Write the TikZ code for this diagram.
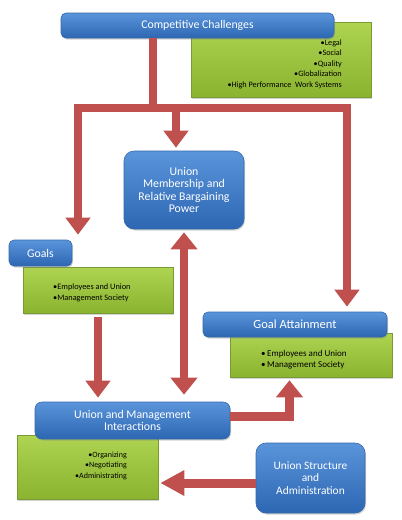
\documentclass[tikz,border=0pt]{standalone}
\usepackage{fontspec}
\setmainfont{Carlito}
\usetikzlibrary{arrows.meta,shadows}
\definecolor{bluetop}{HTML}{5A95DB}
\definecolor{bluebot}{HTML}{2D66B2}
\definecolor{blueedge}{HTML}{3568AA}
\definecolor{greentop}{HTML}{AED452}
\definecolor{greenbot}{HTML}{8AB32F}
\definecolor{greenedge}{HTML}{7A9A38}
\definecolor{redarr}{HTML}{C0504D}
\tikzset{
  bluebox/.style={draw=blueedge, line width=0.6pt, top color=bluetop, bottom color=bluebot,
    rounded corners=5pt, text=white, align=center, font=\fontsize{11.8}{12.5}\selectfont,
    inner sep=0pt, drop shadow={opacity=0.35, shadow xshift=1pt, shadow yshift=-1.5pt}},
  greenbox/.style={draw=greenedge, line width=0.5pt, top color=greentop, bottom color=greenbot,
    inner sep=0pt, drop shadow={opacity=0.35, shadow xshift=1pt, shadow yshift=-1.5pt}},
  gtext/.style={inner sep=0pt, text=black},
  redline/.style={draw=redarr, line width=7.5pt, line join=miter},
  tip/.style={-{Triangle[width=24pt,length=17pt]}},
}
\begin{document}
\begin{tikzpicture}[x=1pt,y=-1pt]
\useasboundingbox (0,0) rectangle (402,520);
% green boxes (behind)
\node[greenbox, minimum width=180pt, minimum height=75pt] (ccg) at (281,59.5) {};
\node[greenbox, minimum width=150pt, minimum height=46pt] (goalsg) at (98,290) {};
\node[greenbox, minimum width=162pt, minimum height=44pt] (gag) at (311,355) {};
\node[greenbox, minimum width=141pt, minimum height=64pt] (umig) at (87.5,467) {};
% green texts
\node[gtext, anchor=east, align=right, font=\fontsize{8.2}{10.5}\selectfont] (ccgt) at (342,64)
  {•Legal\\•Social\\•Quality\\•Globalization\\•High Performance\ \ Work Systems};
\node[gtext, anchor=west, align=left, font=\fontsize{8.3}{10.5}\selectfont] (goalsgt) at (53,293)
  {•Employees and Union\\•Management Society};
\node[gtext, anchor=west, align=left, font=\fontsize{9}{11}\selectfont] (gagt) at (261,359.5)
  {•\,Employees and Union\\•\,Management Society};
\node[gtext, anchor=east, align=right, font=\fontsize{8}{10.5}\selectfont] (umigt) at (127,465.5)
  {•Organizing\\•Negotiating\\•Administrating};
% blue boxes
\node[bluebox, minimum width=273pt, minimum height=25pt] (cc) at (197.5,25.5) {Competitive Challenges};
\node[bluebox, rounded corners=10pt, minimum width=120pt, minimum height=78pt] (umr) at (184,190)
  {Union\\Membership and\\Relative Bargaining\\Power};
\node[bluebox, minimum width=63pt, minimum height=26pt] (goals) at (40.5,253) {Goals};
\node[bluebox, font=\fontsize{12.5}{13}\selectfont, minimum width=184pt, minimum height=25pt] (ga) at (295,324.5) {Goal Attainment};
\node[bluebox, rounded corners=7pt, minimum width=195pt, minimum height=37pt] (umi) at (132.5,420.5)
  {Union and Management\\Interactions};
\node[bluebox, font=\fontsize{11.4}{12.2}\selectfont, rounded corners=10pt, minimum width=109pt, minimum height=70pt] (us) at (310.5,478)
  {Union Structure\\and\\Administration};
% connectors
\coordinate (jt) at (153,108);
\coordinate (jl) at (78,108);
\coordinate (jm) at (176,108);
\coordinate (jr) at (347,108);
\draw[redline] (cc.south -| jt) -- ([yshift=-3.75pt]jt);
\draw[redline, {Triangle[width=24pt,length=17pt]}-{Triangle[width=24pt,length=17pt]}, shorten <=5pt, shorten >=5pt]
  (jl |- goals.north) -- (jl) -- (jr) -- (jr |- ga.north);
\draw[redline, tip, shorten >=3pt] (jm) -- (jm |- umr.north);
\draw[redline, tip, shorten <=4pt, shorten >=4pt] (goalsg.south) -- (goalsg.south |- umi.north);
\draw[redline, {Triangle[width=26pt,length=17pt]}-{Triangle[width=26pt,length=17pt]}, shorten <=3pt, shorten >=7pt]
  (umr.south) -- (umr.south |- umi.north);
\coordinate (k) at (289.5,416.5);
\draw[redline, line width=9pt, -{Triangle[width=26pt,length=17pt]}, shorten >=3pt]
  (umi.east |- k) -- (k) -- (k |- gag.south);
\coordinate (m) at (256,483);
\draw[redline, line width=9pt, -{Triangle[width=24pt,length=24pt]}, shorten >=2pt]
  (m) -- (m -| umig.east);
\end{tikzpicture}
\end{document}
